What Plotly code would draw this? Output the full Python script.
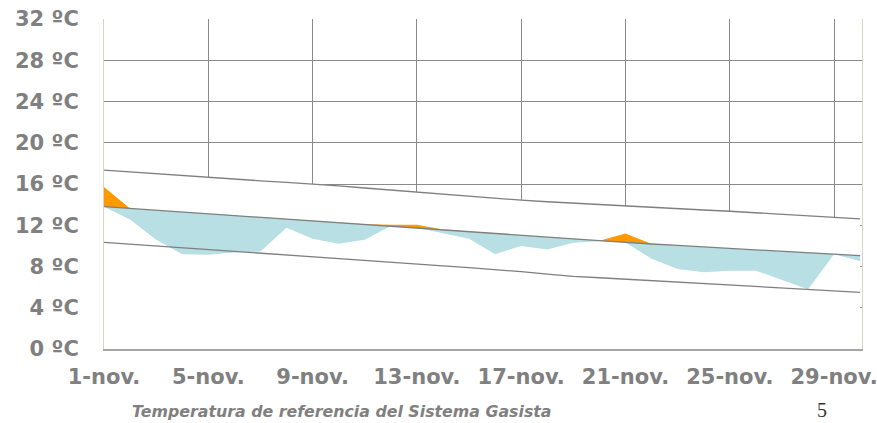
import numpy as np
import plotly.graph_objects as go

days = list(range(1, 31))
tick_days = [1, 5, 9, 13, 17, 21, 25, 29]
tick_labels = ["1-nov.", "5-nov.", "9-nov.", "13-nov.", "17-nov.", "21-nov.", "25-nov.", "29-nov."]
y_ticks = [0, 4, 8, 12, 16, 20, 24, 28, 32]
y_labels = [f"{v} ºC" for v in y_ticks]

# Real (observed) temperature
actual = [15.7, 12.55, 10.6, 9.2, 9.15, 9.35, 9.45, 11.75, 10.7, 10.2,
          10.6, 12.05, 12.05, 11.25, 10.7, 9.2, 10.0, 9.65, 10.3, 10.45,
          11.2, 8.75, 7.75, 7.45, 7.6, 7.6, 6.7, 5.8, 9.25, 8.5]
# Normal (reference) temperature
normal = [13.80, 13.63, 13.46, 13.29, 13.12, 12.95, 12.78, 12.61, 12.44, 12.27,
          12.10, 11.93, 11.76, 11.58, 11.40, 11.22, 11.04, 10.86, 10.68, 10.50,
          10.32, 10.18, 10.04, 9.90, 9.76, 9.62, 9.48, 9.34, 9.20, 9.05]
# Upper band
upper = [17.34, 17.16, 16.97, 16.79, 16.60, 16.45, 16.31, 16.16, 16.02, 15.82,
         15.61, 15.41, 15.20, 15.01, 14.82, 14.62, 14.43, 14.28, 14.14, 13.99,
         13.84, 13.72, 13.60, 13.48, 13.36, 13.21, 13.06, 12.92, 12.77, 12.62]
# Lower band
lower = [10.34, 10.17, 10.00, 9.83, 9.66, 9.49, 9.32, 9.15, 8.97, 8.79,
         8.61, 8.43, 8.25, 8.07, 7.89, 7.72, 7.50, 7.27, 7.05, 6.91,
         6.77, 6.64, 6.50, 6.36, 6.21, 6.07, 5.93, 5.79, 5.64, 5.50]

act = np.array(actual)
nor = np.array(normal)
base = np.minimum(act, nor)
top = np.maximum(act, nor)

LINE = "#7f7f7f"
BLUE = "#b8dfe3"
ORANGE = "#ff9900"

fig = go.Figure()
# white area hiding the grid below the upper band
fig.add_trace(go.Scatter(x=days, y=upper, fill="tozeroy", fillcolor="white",
                         mode="lines", line=dict(width=0), hoverinfo="skip", showlegend=False))
fig.add_trace(go.Scatter(x=days, y=base, mode="lines", line=dict(width=0),
                         hoverinfo="skip", showlegend=False))
fig.add_trace(go.Scatter(x=days, y=normal, mode="lines", line=dict(width=0),
                         fill="tonexty", fillcolor=BLUE, hoverinfo="skip", showlegend=False))
fig.add_trace(go.Scatter(x=days, y=top, mode="lines", line=dict(width=0),
                         fill="tonexty", fillcolor=ORANGE, hoverinfo="skip", showlegend=False))
for series in (upper, normal, lower):
    fig.add_trace(go.Scatter(x=days, y=series, mode="lines",
                             line=dict(color=LINE, width=1.3), showlegend=False))

font_ax = dict(family="Verdana, DejaVu Sans", size=21, color="#808080", weight="bold")

fig.update_layout(
    width=877, height=423, autosize=False,
    margin=dict(l=104, r=15, t=19, b=74),
    paper_bgcolor="white", plot_bgcolor="white",
    xaxis=dict(range=[1, 30.07], tickvals=tick_days, ticktext=tick_labels,
               showgrid=True, gridcolor="#8a8a8a", gridwidth=1,
               showline=True, linecolor="#a6a6a6", linewidth=2,
               ticks="", tickfont=font_ax, ticklabelstandoff=8, zeroline=False,
               automargin=False, ticklabeloverflow="allow"),
    yaxis=dict(range=[0, 32], tickvals=y_ticks, ticktext=y_labels,
               showgrid=True, gridcolor="#8a8a8a", gridwidth=1,
               showline=True, linecolor="#d9d2c9", linewidth=1, mirror=True,
               ticks="", tickfont=font_ax, ticklabelstandoff=20, zeroline=False,
               automargin=False, ticklabeloverflow="allow"),
)

fig.add_annotation(text="<b><i>Temperatura de referencia del Sistema Gasista</i></b>",
                   xref="paper", yref="paper", x=0.034, y=-0.188,
                   xanchor="left", yanchor="middle", showarrow=False,
                   font=dict(family="Verdana, DejaVu Sans", size=15.8, color="#808080"))
fig.add_annotation(text="5", xref="paper", yref="paper", x=0.947, y=-0.185,
                   xanchor="center", yanchor="middle", showarrow=False,
                   font=dict(family="Liberation Serif, Times New Roman", size=20, color="#333333"))

fig.write_html("out.html", config={"displayModeBar": False},
               post_script="document.body.style.margin='0';document.body.style.overflow='hidden';")
